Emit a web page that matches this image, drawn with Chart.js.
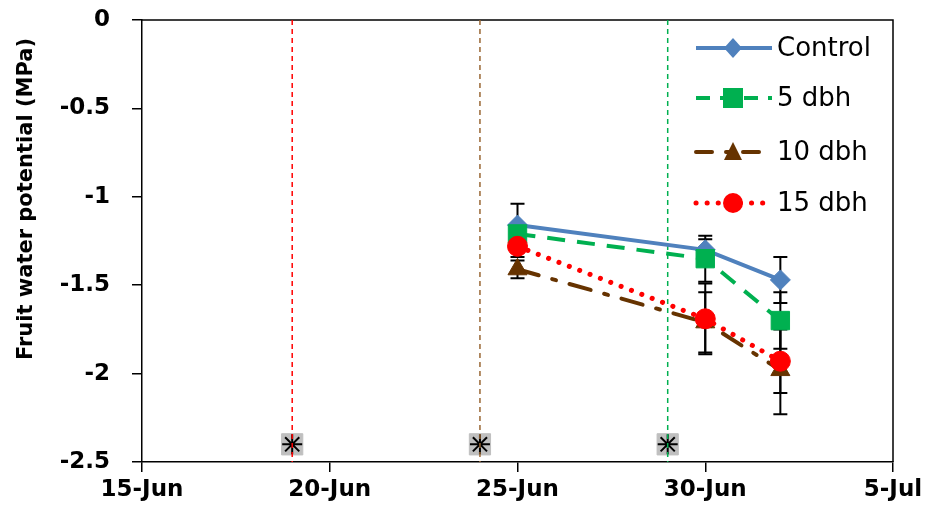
<!DOCTYPE html>
<html>
<head>
<meta charset="utf-8">
<script src="https://cdn.jsdelivr.net/npm/chart.js@4.4.1/dist/chart.umd.min.js"></script>
<style>
  body { margin: 0; background: #fff; }
  #chart-box { width: 928px; height: 521px; }
</style>
</head>
<body>
<div id="chart-box"><canvas id="water-chart" width="928" height="521"></canvas></div>
<script>
// sampling dates and measured values
let sampleDates = ["25-Jun", "30-Jun", "2-Jul"];
let seriesNames = ["Control", "5 dbh", "10 dbh", "15 dbh"];

let controlValues = [-1.16, -1.30, -1.47];
let controlErrors = [0.12, 0.06, 0.13];
let dbh5Values = [-1.21, -1.35, -1.70];
let dbh5Errors = [0.05, 0.13, 0.16];
let dbh10Values = [-1.41, -1.71, -1.98];
let dbh10Errors = [0.05, 0.17, 0.25];
let dbh15Values = [-1.28, -1.69, -1.93];
let dbh15Errors = [0.06, 0.20, 0.18];

// harvest dates shown as vertical lines, with marker on -2.4
let eventDates = ["19-Jun", "24-Jun", "29-Jun"];
let eventMarkerValue = -2.4;

// axis ticks
let xTickLabels = ["15-Jun", "20-Jun", "25-Jun", "30-Jun", "5-Jul"];
let yTickValues = [0, -0.5, -1, -1.5, -2, -2.5];

// days counted from 15-Jun
function dayOf(label) {
  let parts = label.split("-");
  let d = parseInt(parts[0]);
  return parts[1] === "Jun" ? d - 15 : d + 15;
}

function points(values) {
  return values.map((v, i) => ({ x: dayOf(sampleDates[i]), y: v }));
}

let allValues = [controlValues, dbh5Values, dbh10Values, dbh15Values];
let allErrors = [controlErrors, dbh5Errors, dbh10Errors, dbh15Errors];

let seriesStyles = [
  { color: "#4F81BD", dash: [], width: 4, point: "rectRot", radius: 10, cap: "butt" },
  { color: "#00B050", dash: [18, 12], width: 4, point: "rect", radius: 13, cap: "butt" },
  { color: "#663300", dash: [22, 14, 4, 14], width: 4, point: "triangle", radius: 11, cap: "round" },
  { color: "#FF0000", dash: [0.1, 11], width: 5, point: "circle", radius: 10, cap: "round" },
];
let eventColors = ["#FF0000", "#996633", "#00B050"];

let datasets = [];

seriesNames.forEach((name, i) => {
  let s = seriesStyles[i];
  datasets.push({
    label: name,
    data: points(allValues[i]),
    borderColor: s.color,
    backgroundColor: s.color,
    borderWidth: s.width,
    borderDash: s.dash,
    borderCapStyle: s.cap,
    pointStyle: s.point,
    pointRadius: s.radius,
    pointBackgroundColor: s.color,
    pointBorderColor: s.color,
    pointBorderWidth: 1,
    order: 4 - i,
  });
});

eventDates.forEach((date, i) => {
  let x = dayOf(date);
  datasets.push({
    label: "line " + date,
    data: [{ x: x, y: 0 }, { x: x, y: -2.5 }],
    borderColor: eventColors[i],
    borderWidth: 1.5,
    borderDash: [5, 4],
    pointRadius: 0,
    order: 7,
  });
});

datasets.push({
  label: "markers",
  data: eventDates.map(d => ({ x: dayOf(d), y: eventMarkerValue })),
  showLine: false,
  pointStyle: "rect",
  pointRadius: 15,
  pointBackgroundColor: "#BFBFBF",
  pointBorderColor: "#BFBFBF",
  order: 9,
});
datasets.push({
  label: "marker stars",
  data: eventDates.map(d => ({ x: dayOf(d), y: eventMarkerValue })),
  showLine: false,
  pointStyle: "star",
  pointRadius: 10,
  pointBorderColor: "#000",
  pointBorderWidth: 2,
  order: 8,
});

// error bars under the markers
const errorBars = {
  id: "errorBars",
  beforeDatasetsDraw(chart) {
    let ctx = chart.ctx;
    let xs = chart.scales.x, ys = chart.scales.y;
    ctx.save();
    ctx.strokeStyle = "#000";
    ctx.lineWidth = 2;
    allValues.forEach((vals, i) => {
      vals.forEach((v, j) => {
        let px = xs.getPixelForValue(dayOf(sampleDates[j]));
        let top = ys.getPixelForValue(v + allErrors[i][j]);
        let bot = ys.getPixelForValue(v - allErrors[i][j]);
        ctx.beginPath();
        ctx.moveTo(px, top); ctx.lineTo(px, bot);
        ctx.moveTo(px - 7, top); ctx.lineTo(px + 7, top);
        ctx.moveTo(px - 7, bot); ctx.lineTo(px + 7, bot);
        ctx.stroke();
      });
    });
    // top and right frame of the plot
    let a = chart.chartArea;
    ctx.lineWidth = 1.5;
    ctx.beginPath();
    ctx.moveTo(a.left, a.top); ctx.lineTo(a.right, a.top); ctx.lineTo(a.right, a.bottom);
    ctx.stroke();
    ctx.restore();
  },
};

function drawMarker(ctx, style, x, y, color) {
  ctx.fillStyle = color;
  ctx.beginPath();
  if (style === "rectRot") {
    ctx.moveTo(x, y - 10); ctx.lineTo(x + 9, y); ctx.lineTo(x, y + 10); ctx.lineTo(x - 9, y);
  } else if (style === "rect") {
    ctx.rect(x - 10, y - 10, 20, 20);
  } else if (style === "triangle") {
    ctx.moveTo(x, y - 10); ctx.lineTo(x + 9, y + 8); ctx.lineTo(x - 9, y + 8);
  } else {
    ctx.arc(x, y, 10, 0, Math.PI * 2);
  }
  ctx.closePath();
  ctx.fill();
}

// legend and y axis title
const legendAndTitle = {
  id: "legendAndTitle",
  afterDraw(chart) {
    let ctx = chart.ctx;
    ctx.save();
    let rows = [48, 98, 152, 203];
    seriesNames.forEach((name, i) => {
      let s = seriesStyles[i];
      ctx.strokeStyle = s.color;
      ctx.lineWidth = s.width;
      ctx.lineCap = s.cap;
      ctx.setLineDash(s.dash.length ? (i === 1 ? [14, 10] : i === 2 ? [16, 14, 3, 14] : [0.1, 11]) : []);
      ctx.beginPath();
      ctx.moveTo(696, rows[i]);
      ctx.lineTo(772, rows[i]);
      ctx.stroke();
      ctx.setLineDash([]);
      drawMarker(ctx, s.point, 733, rows[i], s.color);
      ctx.fillStyle = "#000";
      ctx.font = "26px 'DejaVu Sans'";
      ctx.textAlign = "left";
      ctx.textBaseline = "middle";
      ctx.fillText(name, 777, rows[i] + 1);
    });

    ctx.translate(27, 199);
    ctx.rotate(-Math.PI / 2);
    ctx.font = "bold 21px 'DejaVu Sans'";
    ctx.textAlign = "center";
    ctx.textBaseline = "middle";
    ctx.fillStyle = "#000";
    ctx.fillText("Fruit water potential (MPa)", 0, 0);
    ctx.restore();
  },
};

const ctx = document.getElementById("water-chart").getContext("2d");

const myChart = new Chart(ctx, {
  type: "line",
  data: { datasets: datasets },
  plugins: [errorBars, legendAndTitle],
  options: {
    responsive: false,
    devicePixelRatio: 1,
    animation: false,
    layout: { padding: { top: 20, right: 35, left: 0, bottom: 0 } },
    plugins: {
      legend: { display: false },
      tooltip: { enabled: false },
    },
    scales: {
      x: {
        type: "linear",
        min: 0,
        max: 20,
        afterFit: (scale) => {
          scale.height = 59;
          scale.paddingLeft = 0;
          scale.paddingRight = 0;
        },
        afterBuildTicks: (scale) => {
          scale.ticks = xTickLabels.map((l, i) => ({ value: i * 5 }));
        },
        ticks: {
          callback: (v) => xTickLabels[v / 5],
          color: "#000",
          font: { family: "DejaVu Sans", size: 23, weight: "bold" },
          padding: 4,
          maxRotation: 0,
        },
        grid: { drawOnChartArea: false, color: "#000", lineWidth: 1.5, tickLength: 10 },
        border: { color: "#000", width: 1.5 },
      },
      y: {
        min: -2.5,
        max: 0,
        afterFit: (scale) => {
          scale.width = 142;
          scale.paddingTop = 0;
          scale.paddingBottom = 0;
        },
        afterBuildTicks: (scale) => {
          scale.ticks = yTickValues.map(v => ({ value: v }));
        },
        ticks: {
          callback: (v) => String(Math.round(v * 10) / 10),
          color: "#000",
          font: { family: "DejaVu Sans", size: 23, weight: "bold" },
          padding: 22,
        },
        grid: { drawOnChartArea: false, color: "#000", lineWidth: 1.5, tickLength: 10 },
        border: { color: "#000", width: 1.5 },
      },
    },
  },
});
</script>
</body>
</html>
